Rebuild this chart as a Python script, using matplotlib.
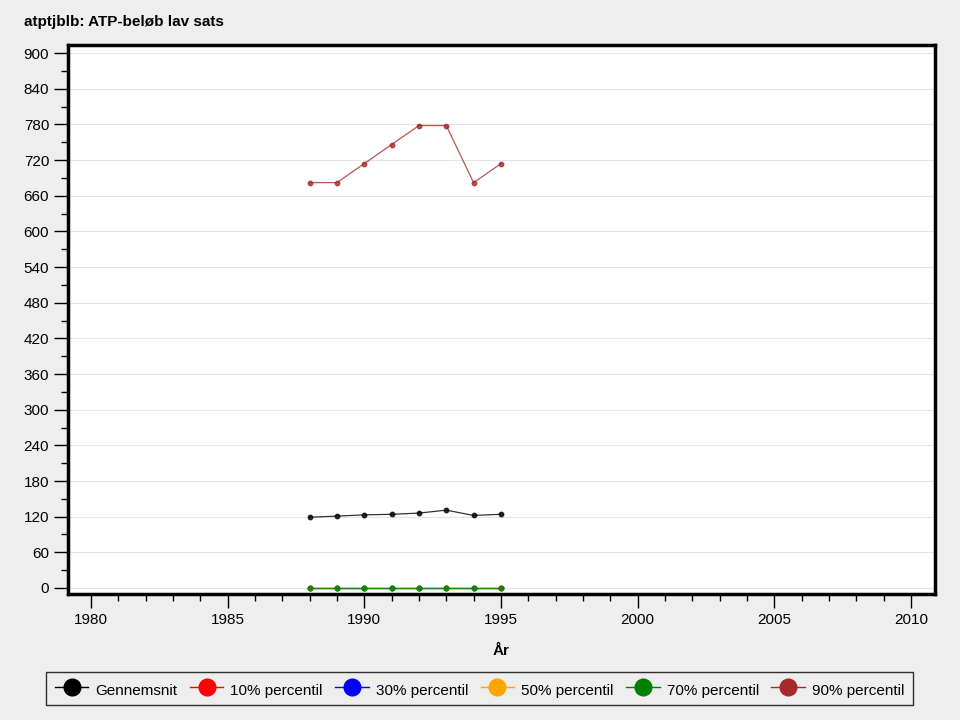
import matplotlib.pyplot as plt
from matplotlib.ticker import MultipleLocator

years = [1988, 1989, 1990, 1991, 1992, 1993, 1994, 1995]
mean_vals = [119, 121, 123, 124, 126, 131, 122, 124]
p10_vals = [0, 0, 0, 0, 0, 0, 0, 0]
p30_vals = [0, 0, 0, 0, 0, 0, 0, 0]
p50_vals = [0, 0, 0, 0, 0, 0, 0, 0]
p70_vals = [0, 0, 0, 0, 0, 0, 0, 0]
p90_vals = [682, 682, 714, 746, 778, 778, 682, 714]

series = [
    ("Gennemsnit", mean_vals, "black"),
    ("10% percentil", p10_vals, "red"),
    ("30% percentil", p30_vals, "blue"),
    ("50% percentil", p50_vals, "orange"),
    ("70% percentil", p70_vals, "green"),
    ("90% percentil", p90_vals, "brown"),
]

plt.rcParams["font.family"] = ["Liberation Sans", "DejaVu Sans"]
BG = "#eeeeee"

fig = plt.figure(figsize=(9.6, 7.2), dpi=100, facecolor=BG)
ax = fig.add_axes([68 / 960, 1 - 594 / 720, 867 / 960, 549 / 720])

for label, vals, color in series:
    ax.plot(years, vals, color=color, lw=0.9, alpha=0.8, marker="o",
            markersize=3.2, markerfacecolor=color, markeredgecolor=color,
            label=label)

ax.set_xlim(1979.16, 2010.88)
ax.set_ylim(-10.1, 913.5)
ax.xaxis.set_major_locator(MultipleLocator(5))
ax.xaxis.set_minor_locator(MultipleLocator(1))
ax.yaxis.set_major_locator(MultipleLocator(60))
ax.yaxis.set_minor_locator(MultipleLocator(30))
ax.tick_params(axis="both", which="major", direction="out", length=10,
               width=1, labelsize=11, color="black")
ax.tick_params(axis="both", which="minor", direction="out", length=5,
               width=1, color="black")
ax.tick_params(axis="x", which="major", pad=4)
ax.grid(True, axis="y", which="major", color="#e4e4e4", lw=0.8)
ax.set_axisbelow(True)
for sp in ax.spines.values():
    sp.set_linewidth(2.5)
    sp.set_color("black")

ax.set_xlabel("År", fontsize=11, fontweight="bold", labelpad=12)
fig.text(24 / 960, 1 - 22 / 720, "atptjblb: ATP-beløb lav sats",
         fontsize=11, fontweight="bold", va="center", ha="left")

handles = [
    plt.Line2D([], [], color=c, lw=1, marker="o", markersize=12,
               markerfacecolor=c, markeredgecolor=c)
    for _, _, c in series
]
leg = fig.legend(handles, [s[0] for s in series], loc="center",
                 bbox_to_anchor=(479.5 / 960, 1 - 688.5 / 720), ncol=6,
                 frameon=True, fontsize=11, handlelength=2.2,
                 handletextpad=0.45, columnspacing=0.82, borderpad=0.6,
                 borderaxespad=0, fancybox=False)
leg.get_frame().set_edgecolor("black")
leg.get_frame().set_facecolor(BG)
leg.get_frame().set_linewidth(1)
# keep labels on a common baseline, then nudge them back to the marker centre
for t in leg.get_texts():
    t.set_verticalalignment("center_baseline")
    t.set_y(3)

fig.savefig("out.png", dpi=100, facecolor=BG)
